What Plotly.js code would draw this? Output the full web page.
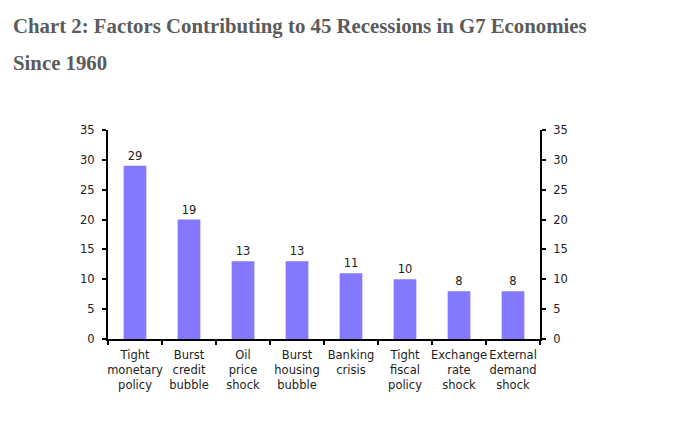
<!DOCTYPE html>
<html>
<head>
<meta charset="utf-8">
<script src="https://cdn.plot.ly/plotly-3.0.1.min.js"></script>
<style>html,body{margin:0;padding:0;background:#fff;}#chart{width:679px;height:440px;}</style>
</head>
<body>
<div id="chart"></div>
<script>
var categories = ["Tight<br>monetary<br>policy", "Burst<br>credit<br>bubble", "Oil<br>price<br>shock", "Burst<br>housing<br>bubble", "Banking<br>crisis", "Tight<br>fiscal<br>policy", "Exchange<br>rate<br>shock", "External<br>demand<br>shock"];
var barHeights = [29, 20, 13, 13, 11, 10, 8, 8];
var barLabels = ["29", "19", "13", "13", "11", "10", "8", "8"];
var yTicks = [0, 5, 10, 15, 20, 25, 30, 35];
var titleLine1 = "Chart 2: Factors Contributing to 45 Recessions in G7 Economies";
var titleLine2 = "Since 1960";

var tickFont = {family: "DejaVu Sans", size: 11.5, color: "#222"};
var titleFont = {family: "Liberation Serif", size: 20.8, color: "#5b5b5b", weight: "bold"};

var data = [
  {
    type: "bar",
    x: categories,
    y: barHeights,
    text: barLabels,
    textposition: "outside",
    cliponaxis: false,
    textfont: tickFont,
    marker: {color: "#8479FE"},
    width: 0.42,
    hoverinfo: "none"
  },
  {
    type: "scatter",
    mode: "markers",
    x: categories,
    y: barHeights,
    yaxis: "y2",
    marker: {opacity: 0},
    hoverinfo: "none",
    showlegend: false
  }
];

var layout = {
  width: 679,
  height: 440,
  margin: {l: 108, r: 139, t: 130, b: 101},
  paper_bgcolor: "#fff",
  plot_bgcolor: "#fff",
  showlegend: false,
  xaxis: {
    type: "category",
    showline: true, linecolor: "#000", linewidth: 2,
    ticks: "outside", tickson: "boundaries", ticklen: 4, tickwidth: 2, tickcolor: "#000",
    tickfont: tickFont, tickangle: 0, ticklabelstandoff: 4,
    showgrid: false, zeroline: false, fixedrange: true
  },
  yaxis: {
    range: [0, 35], tickvals: yTicks,
    showline: true, linecolor: "#000", linewidth: 2,
    ticks: "outside", ticklen: 4, tickwidth: 2, tickcolor: "#000",
    tickfont: tickFont, ticklabelstandoff: 5,
    showgrid: false, zeroline: false
  },
  yaxis2: {
    range: [0, 35], tickvals: yTicks,
    overlaying: "y", side: "right",
    showline: true, linecolor: "#000", linewidth: 2,
    ticks: "outside", ticklen: 4, tickwidth: 2, tickcolor: "#000",
    tickfont: tickFont, ticklabelstandoff: 5,
    showgrid: false, zeroline: false
  },
  annotations: [
    {text: titleLine1, xref: "paper", yref: "paper", x: (11 - 108) / 432, y: 1 + (130 - 26) / 209,
     xanchor: "left", yanchor: "middle", showarrow: false, font: titleFont},
    {text: titleLine2, xref: "paper", yref: "paper", x: (11 - 108) / 432, y: 1 + (130 - 62) / 209,
     xanchor: "left", yanchor: "middle", showarrow: false, font: titleFont}
  ]
};

Plotly.newPlot("chart", data, layout, {displayModeBar: false, staticPlot: true});
</script>
</body>
</html>
